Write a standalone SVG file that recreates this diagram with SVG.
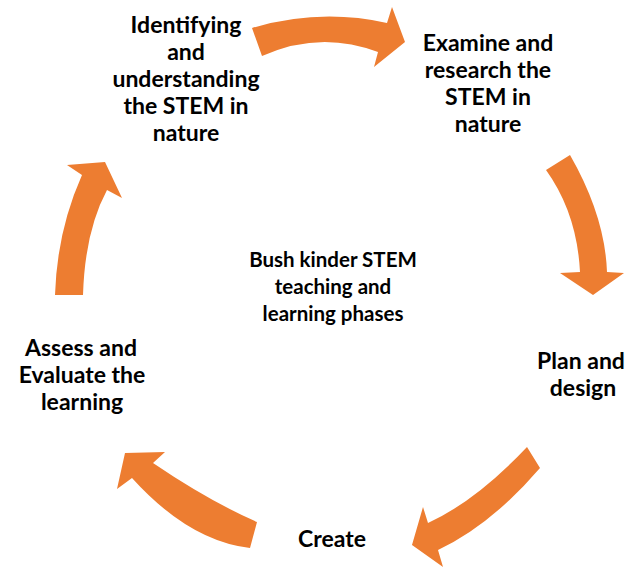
<svg xmlns="http://www.w3.org/2000/svg" width="637" height="568" viewBox="0 0 637 568">
  <style>
    .arrow { fill: #ED7D31; stroke: none; }
    .label { font-family: Lato, "Open Sans", "Liberation Sans", sans-serif; font-weight: 700; font-size: 23px; fill: #000; text-anchor: middle; }
    .center { font-size: 20.5px; }
  </style>
  <rect width="637" height="568" fill="#fff"/>

  <!-- curved block arrows forming the cycle -->
  <g id="connectors">
    <path class="arrow" d="M252,28 Q320,8 387,23 L392,7 L405,42 L374,67 L378,52 Q320,30 262,56 Z"/>
    <path class="arrow" d="M546,170 Q577,213 580,272 L560,273 L593,295 L624,273 L607,272 Q605,216 570,155 Z"/>
    <path class="arrow" d="M527,447 Q476,501 428,523 L423,507 L412,545 L443,567 L438,550 Q491,525 540,468 Z"/>
    <path class="arrow" d="M257,522 Q209,501 153,463 L165,452 L125,453 L117,489 L132,478 Q189,541 250,548 Z"/>
    <path class="arrow" d="M55,295 Q57,231 82,175 L67,165 L105,162 L122,198 L107,190 Q85,231 83,295 Z"/>
  </g>

  <g id="identify">
    <text class="label" x="186" y="33">Identifying</text>
    <text class="label" x="186" y="60">and</text>
    <text class="label" x="186" y="87">understanding</text>
    <text class="label" x="186" y="114">the STEM in</text>
    <text class="label" x="186" y="141">nature</text>
  </g>

  <g id="examine">
    <text class="label" x="488" y="51">Examine and</text>
    <text class="label" x="488" y="78">research the</text>
    <text class="label" x="488" y="105">STEM in</text>
    <text class="label" x="488" y="132">nature</text>
  </g>

  <g id="plan">
    <text class="label" x="581" y="369">Plan and</text>
    <text class="label" x="583" y="396">design</text>
  </g>

  <g id="create">
    <text class="label" x="332" y="547">Create</text>
  </g>

  <g id="assess">
    <text class="label" x="81" y="356">Assess and</text>
    <text class="label" x="82" y="383">Evaluate the</text>
    <text class="label" x="82" y="410">learning</text>
  </g>

  <g id="phases">
    <text class="label center" x="333" y="267">Bush kinder STEM</text>
    <text class="label center" x="333" y="294">teaching and</text>
    <text class="label center" x="333" y="321">learning phases</text>
  </g>
</svg>
